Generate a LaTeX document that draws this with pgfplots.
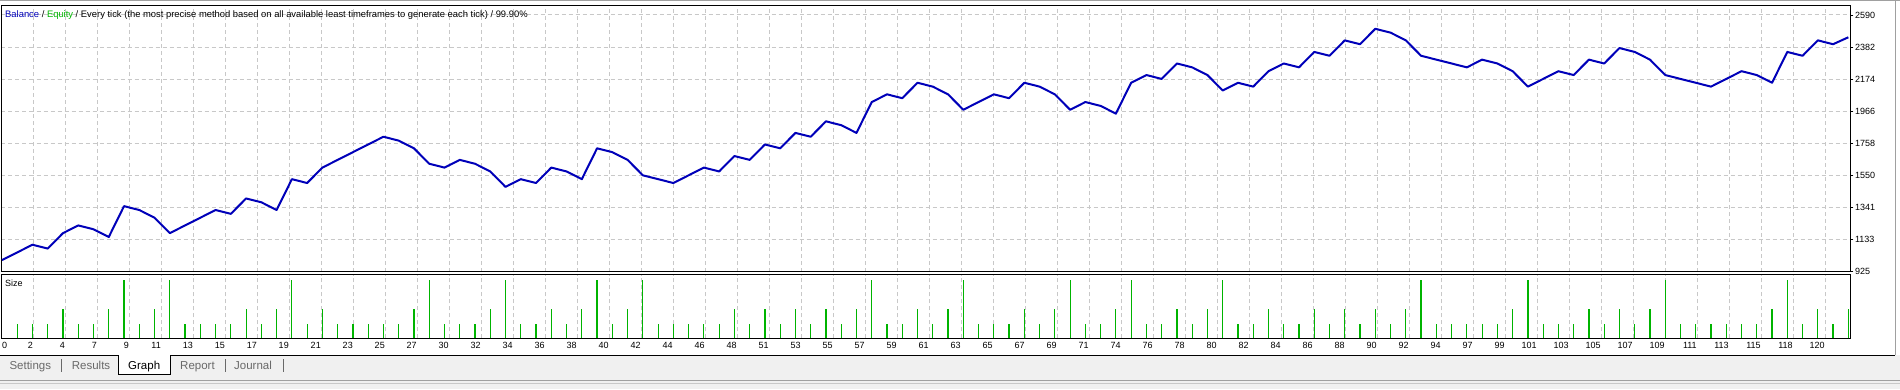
\documentclass[border=0pt]{standalone}
\usepackage{fontspec}
\setmainfont{Liberation Sans}
\usepackage{pgfplots}
\pgfplotsset{compat=1.18}
\usepackage{pgfplotstable}

\definecolor{bal}{RGB}{0,0,185}
\definecolor{eq}{RGB}{0,180,0}
\definecolor{gridc}{RGB}{200,200,200}
\definecolor{tabbg}{RGB}{240,240,240}
\definecolor{tabtxt}{RGB}{105,105,105}
\definecolor{sep}{RGB}{160,160,160}

\pgfplotstableread{
t v
0 1000
1 1050
2 1100
3 1075
4 1175
5 1225
6 1200
7 1150
8 1350
9 1325
10 1275
11 1175
12 1225
13 1275
14 1325
15 1300
16 1400
17 1375
18 1325
19 1525
20 1500
21 1600
22 1650
23 1700
24 1750
25 1800
26 1775
27 1725
28 1625
29 1600
30 1650
31 1625
32 1575
33 1475
34 1525
35 1500
36 1600
37 1575
38 1525
39 1725
40 1700
41 1650
42 1550
43 1525
44 1500
45 1550
46 1600
47 1575
48 1675
49 1650
50 1750
51 1725
52 1825
53 1800
54 1900
55 1875
56 1825
57 2025
58 2075
59 2050
60 2150
61 2125
62 2075
63 1975
64 2025
65 2075
66 2050
67 2150
68 2125
69 2075
70 1975
71 2025
72 2000
73 1950
74 2150
75 2200
76 2175
77 2275
78 2250
79 2200
80 2100
81 2150
82 2125
83 2225
84 2275
85 2250
86 2350
87 2325
88 2425
89 2400
90 2500
91 2475
92 2425
93 2325
94 2300
95 2275
96 2250
97 2300
98 2275
99 2225
100 2125
101 2175
102 2225
103 2200
104 2300
105 2275
106 2375
107 2350
108 2300
109 2200
110 2175
111 2150
112 2125
113 2175
114 2225
115 2200
116 2150
117 2350
118 2325
119 2425
120 2400
121 2445
}\balance

\pgfplotstableread{
t s
1 1
2 1
3 1
4 2
5 1
6 1
7 2
8 4
9 1
10 2
11 4
12 1
13 1
14 1
15 1
16 2
17 1
18 2
19 4
20 1
21 2
22 1
23 1
24 1
25 1
26 1
27 2
28 4
29 1
30 1
31 1
32 2
33 4
34 1
35 1
36 2
37 1
38 2
39 4
40 1
41 2
42 4
43 1
44 1
45 1
46 1
47 1
48 2
49 1
50 2
51 1
52 2
53 1
54 2
55 1
56 2
57 4
58 1
59 1
60 2
61 1
62 2
63 4
64 1
65 1
66 1
67 2
68 1
69 2
70 4
71 1
72 1
73 2
74 4
75 1
76 1
77 2
78 1
79 2
80 4
81 1
82 1
83 2
84 1
85 1
86 2
87 1
88 2
89 1
90 2
91 1
92 2
93 4
94 1
95 1
96 1
97 1
98 1
99 2
100 4
101 1
102 1
103 1
104 2
105 1
106 2
107 1
108 2
109 4
110 1
111 1
112 1
113 1
114 1
115 1
116 2
117 4
118 1
119 2
120 1
121 2
}\sizes

\newcommand{\smallfont}{\fontsize{9}{10}\selectfont}
\newcommand{\titlefont}{\fontsize{9.4}{10}\selectfont}
\newcommand{\tabfont}{\fontsize{11.5}{13}\selectfont}

\begin{document}
\begin{tikzpicture}[x=1pt,y=1pt]
\useasboundingbox (0,0) rectangle (1900,389);
\fill[white] (0,0) rectangle (1900,389);
% top and right frame lines
\draw[sep, line width=1.5pt] (0,388.4) -- (1900,388.4);
\draw[sep, line width=1pt] (1895,9) -- (1895,389);
% tab bar
\fill[tabbg] (0,0) rectangle (1900,34);
\draw[black, line width=1pt] (0,34) -- (118,34);
\draw[black, line width=1pt] (170,34) -- (1895,34);
\fill[white] (118,14.7) rectangle (170,34);
\draw[black, line width=1pt] (118,34) -- (118,14.7) -- (170,14.7) -- (170,34);
\draw[sep, line width=1pt] (0,9) -- (1900,9);
\draw[gridc, line width=1pt] (0,5.5) -- (1900,5.5);
\node[anchor=base west, inner sep=0pt, font=\tabfont, text=tabtxt] at (9.3,20) {Settings};
\node[anchor=base west, inner sep=0pt, font=\tabfont, text=tabtxt] at (71.7,20) {Results};
\node[anchor=base west, inner sep=0pt, font=\tabfont, text=black] at (128,20) {Graph};
\node[anchor=base west, inner sep=0pt, font=\tabfont, text=tabtxt] at (180,20) {Report};
\node[anchor=base west, inner sep=0pt, font=\tabfont, text=tabtxt] at (234,20) {Journal};
\draw[tabtxt, line width=0.9pt] (61.7,17.5) -- (61.7,30);
\draw[tabtxt, line width=0.9pt] (225.7,17.5) -- (225.7,30);
\draw[tabtxt, line width=0.9pt] (283,17.5) -- (283,30);

% main balance panel
\begin{axis}[
  at={(1.5pt,117.3pt)}, anchor=south west,
  scale only axis, width=1848.8pt, height=266.2pt,
  xmin=-0.03, xmax=121.13, ymin=925, ymax=2651,
  axis line style={black, line width=1pt},
  xtick={2.065,4.162,...,119.6},
  xticklabels={},
  x tick style={draw=none},
  ytick={1133.125,1341.25,1549.375,1757.5,1965.625,2173.75,2381.875,2590},
  yticklabels={1133,1341,1550,1758,1966,2174,2382,2590},
  extra y ticks={925},
  extra y tick labels={925},
  extra y tick style={grid=none},
  ytick pos=right, yticklabel pos=right,
  tick align=outside, major tick length=3pt,
  y tick style={black, line width=0.8pt},
  yticklabel style={font=\smallfont, anchor=west, inner sep=0pt, xshift=1.5pt},
  xmajorgrids, ymajorgrids,
  major grid style={gridc, line width=1pt, dash pattern=on 4pt off 3pt},
  clip=true,
]
\addplot[bal, line width=2pt, line join=round] table[x=t,y=v]{\balance};
\end{axis}

% size panel
\begin{axis}[
  at={(1.5pt,50.7pt)}, anchor=south west,
  scale only axis, width=1848.8pt, height=63.6pt,
  xmin=-0.03, xmax=121.13, ymin=0, ymax=4.35,
  axis line style={black, line width=1pt},
  ytick=\empty,
  xtick={2.065,4.162,...,119.6},
  xticklabels={2,4,7,9,11,13,15,17,19,21,23,25,27,30,32,34,36,38,40,42,44,46,48,51,53,55,57,59,61,63,65,67,69,71,74,76,78,80,82,84,86,88,90,92,94,97,99,101,103,105,107,109,111,113,115,118,120},
  x tick style={draw=none}, major tick length=0pt,
  xticklabel style={font=\smallfont, anchor=north east, inner sep=0pt, xshift=-0.5pt, yshift=-4pt},
  extra x ticks={-0.03},
  extra x tick labels={0},
  extra x tick style={grid=none, xticklabel style={anchor=north west, xshift=1pt}},
  xmajorgrids,
  major grid style={gridc, line width=1pt, dash pattern=on 4pt off 3pt},
]
\addplot[ycomb, eq, line width=1.2pt] table[x=t,y=s]{\sizes};
\end{axis}

\node[anchor=base west, inner sep=0pt, font=\titlefont] at (5,371.7)
  {\textcolor{bal}{Balance} / \textcolor{eq}{Equity} / Every tick (the most precise method based on all available least timeframes to generate each tick) / 99.90\%};
\node[anchor=base west, inner sep=0pt, font=\smallfont] at (5,103) {Size};
\end{tikzpicture}
\end{document}
